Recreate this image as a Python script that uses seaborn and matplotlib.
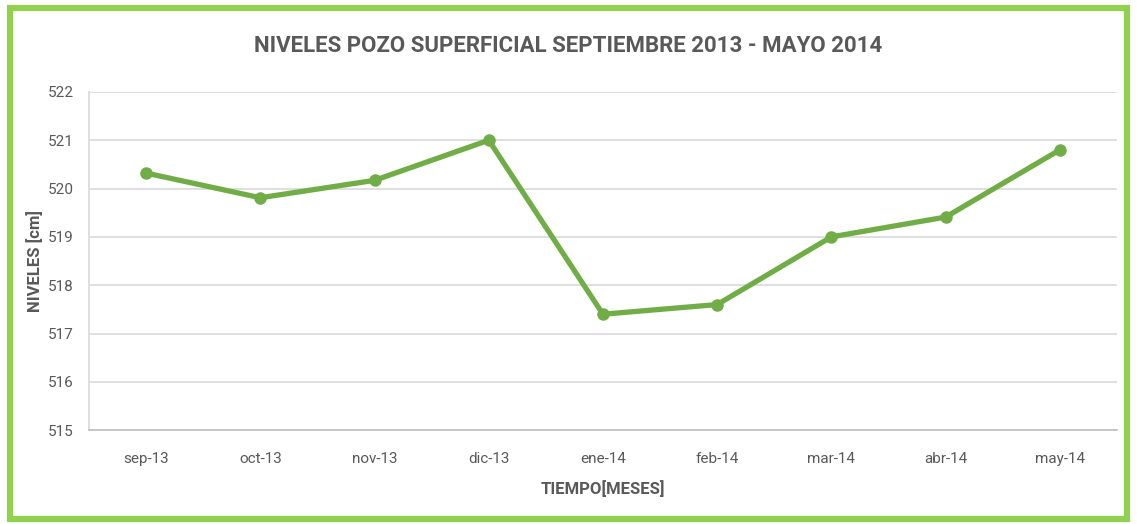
import matplotlib
matplotlib.use("Agg")
import matplotlib.pyplot as plt
import seaborn as sns
import pandas as pd
from matplotlib.patches import Rectangle

# data
meses = ["sep-13", "oct-13", "nov-13", "dic-13", "ene-14",
         "feb-14", "mar-14", "abr-14", "may-14"]
niveles = [520.32, 519.81, 520.17, 521.0, 517.4, 517.6, 519.0, 519.41, 520.8]
y_ticks = [515, 516, 517, 518, 519, 520, 521, 522]

df = pd.DataFrame({"Mes": meses, "Nivel": niveles})

sns.set_theme(style="white")
plt.rcParams['font.family'] = ['Roboto', 'DejaVu Sans']

gray = "#595959"
fig = plt.figure(figsize=(11.37, 5.24), dpi=100)
ax = fig.add_axes([0.0783, 0.179, 0.904, 0.6456])

sns.lineplot(data=df, x="Mes", y="Nivel", sort=False, ax=ax,
             color="#70AD47", linewidth=3.8, marker="o", markersize=9,
             markeredgewidth=0)

ax.set_xlim(-0.5, len(meses) - 0.5)
ax.set_ylim(515, 522)
ax.set_yticks(y_ticks)
ax.yaxis.grid(True, color="#D9D9D9", linewidth=1.2)
ax.xaxis.grid(False)
for side in ["top", "right"]:
    ax.spines[side].set_visible(False)
ax.spines["left"].set_color("#D9D9D9")
ax.spines["bottom"].set_color("#BFBFBF")
ax.spines["left"].set_linewidth(1.2)
ax.spines["bottom"].set_linewidth(1.2)
ax.tick_params(axis="both", colors=gray, labelsize=11, length=0)
ax.tick_params(axis="x", pad=16)
ax.tick_params(axis="y", pad=11)

ax.set_xlabel("TIEMPO[MESES]", fontsize=12, fontweight="bold", color=gray, labelpad=10)
ax.set_ylabel("NIVELES [cm]", fontsize=12, fontweight="bold", color=gray, labelpad=3)
fig.text(0.5, 0.912, "NIVELES POZO SUPERFICIAL SEPTIEMBRE 2013 - MAYO 2014",
         ha="center", va="center", fontsize=16, fontweight="bold", color=gray)

# green frame around the chart
fig.patches.append(Rectangle((0.0088, 0.0095), 0.9824, 0.976, transform=fig.transFigure,
                             fill=False, edgecolor="#92D050", linewidth=4.5))

fig.savefig("out.png", dpi=100)
